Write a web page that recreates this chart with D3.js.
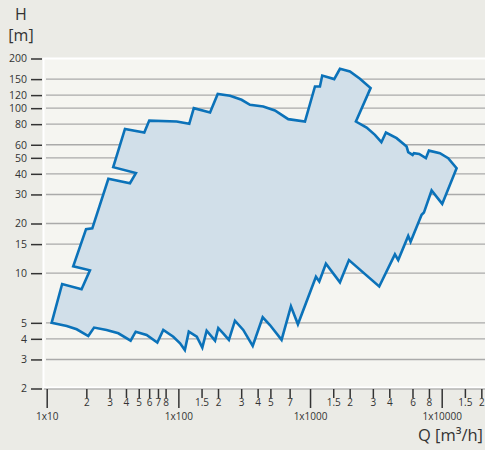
<!DOCTYPE html>
<html>
<head>
<meta charset="utf-8">
<script src="https://cdn.jsdelivr.net/npm/d3@7"></script>
<style>
  body { margin: 0; background: #ebebe6; }
  svg { display: block; font-family: "Open Sans", sans-serif; }
</style>
</head>
<body>
<svg width="485" height="450"></svg>
<script>
// y ticks (H in m)
var yTicks = [200, 150, 120, 100, 80, 60, 50, 40, 30, 20, 15, 10, 5, 4, 3, 2];
// x ticks (Q in m3/h)
var xMajor = [10, 100, 1000, 10000];
var xMajorLabels = ["1x10", "1x100", "1x1000", "1x10000"];
var xMinor = [20, 30, 40, 50, 60, 70, 80, 150, 200, 300, 400, 500, 700,
              1500, 2000, 3000, 4000, 6000, 8000, 15000, 20000];
var xMinorLabels = ["2", "3", "4", "5", "6", "7", "8", "1.5", "2", "3", "4", "5", "7",
                    "1.5", "2", "3", "4", "6", "8", "1.5", "2"];

// outline of the operating range, Q and H
var rangeQ = [10.9, 13.1, 18.4, 21.3, 15.9, 19.9, 22.2, 29.4, 42.9, 47.6, 32.0, 39.3, 55.1, 60.1,
  97, 121, 131, 174, 199, 247, 302, 350, 441, 541, 683, 915, 1090, 1189, 1238, 1526, 1687,
  2009, 2393, 2884, 2231, 2690, 3111, 3484, 3770, 4545, 5414, 5567, 6012, 6150, 6745, 7586,
  7995, 9690, 11204, 12976,
  10087, 8381, 7327, 7038, 5805, 5567, 4674, 4412, 3353, 1975, 1687, 1320, 1175, 1109,
  809, 716, 608, 496, 437, 367, 311, 269, 242, 219, 201, 190, 164, 152, 138, 120, 112, 103,
  91.5, 76.8, 69.2, 57.4, 47.4, 43.4, 35.0, 28.5, 22.9, 20.7, 16.9, 14.2];
var rangeH = [5.0, 8.6, 8.0, 10.4, 11.0, 18.5, 18.7, 37.3, 35.1, 40.4, 43.9, 74.9, 71.2, 84.1,
  83.0, 80.4, 100, 94.1, 122, 118.8, 112.4, 104.8, 102.3, 96.8, 85.8, 83.0, 135.3, 135.3, 157.7, 150, 173.2,
  166.8, 150.7, 132.3, 83.0, 76.3, 68.9, 62.2, 71.2, 65.8, 58.5, 54.1, 52.1, 53.4, 52.8, 49.8,
  55.3, 53.4, 49.8, 43.3,
  26.3, 31.7, 23.3, 22.6, 15.5, 16.8, 12.0, 13.0, 8.3, 12.0, 8.8, 11.4, 8.9, 9.5,
  4.9, 6.3, 3.94, 4.85, 5.4, 3.62, 4.53, 5.15, 3.94, 4.32, 4.64, 3.90, 4.48, 3.54, 4.12, 4.42, 3.42, 3.76,
  4.12, 4.53, 3.80, 4.22, 4.42, 3.90, 4.32, 4.53, 4.68, 4.16, 4.57, 4.79];

var svg = d3.select("svg");
var x = d3.scaleLog().domain([10, 10000]).range([46.7, 441.7]);
var y = d3.scaleLog().domain([2, 200]).range([388.5, 58.5]);

// plot background
svg.append("rect")
	.attr("x", 43.5).attr("y", 58.5)
	.attr("width", 450).attr("height", 329)
	.attr("fill", "#f5f5f1")
	.attr("stroke", "#fff")
	.attr("stroke-width", 2);

// grid
svg.append("g").selectAll("line")
	.data(yTicks.filter(function(d){ return d != 200 && d != 2; }))
	.join("line")
	.attr("x1", 46).attr("x2", 485)
	.attr("y1", function(d){ return y(d); })
	.attr("y2", function(d){ return y(d); })
	.attr("stroke", "#aaaaaa")
	.attr("stroke-width", 1.4);

// x axis line
svg.append("line")
	.attr("x1", 44).attr("x2", 485)
	.attr("y1", 389).attr("y2", 389)
	.attr("stroke", "#999")
	.attr("stroke-width", 1.2);

// operating range
var pts = rangeQ.map(function(q, i){ return [x(q), y(rangeH[i])]; });
svg.append("path")
	.attr("d", d3.line()(pts) + "Z")
	.attr("fill", "#d1dfe9")
	.attr("stroke", "#0b72b9")
	.attr("stroke-width", 2.6)
	.attr("stroke-linejoin", "miter");

// y axis
var yAxis = svg.append("g")
	.attr("transform", "translate(42,0)")
	.call(d3.axisLeft(y).tickValues(yTicks).tickFormat(d3.format("d")).tickSize(11).tickPadding(4));
yAxis.select(".domain").remove();

// x axis, minor then major
var xMin = svg.append("g")
	.attr("transform", "translate(0,389)")
	.call(d3.axisBottom(x).tickValues(xMinor)
		.tickFormat(function(d, i){ return xMinorLabels[i]; })
		.tickSize(9).tickPadding(1));
var xMaj = svg.append("g")
	.attr("transform", "translate(0,389)")
	.call(d3.axisBottom(x).tickValues(xMajor)
		.tickFormat(function(d, i){ return xMajorLabels[i]; })
		.tickSize(19).tickPadding(5));
xMin.select(".domain").remove();
xMaj.select(".domain").remove();

svg.selectAll(".tick line").attr("stroke", "#333").attr("stroke-width", 1.5);
svg.selectAll(".tick text")
	.attr("fill", "#333")
	.style("font-family", "'Open Sans', sans-serif")
	.style("font-size", "10.5px");
xMin.selectAll(".tick text").style("font-size", "10px");
xMaj.selectAll(".tick text").style("font-size", "10px");

// axis titles
svg.append("text").attr("x", 21).attr("y", 20).attr("text-anchor", "middle")
	.attr("fill", "#333").style("font-size", "16px").text("H");
svg.append("text").attr("x", 21).attr("y", 41).attr("text-anchor", "middle")
	.attr("fill", "#333").style("font-size", "16px").text("[m]");
svg.append("text").attr("x", 483).attr("y", 441).attr("text-anchor", "end")
	.attr("fill", "#333").style("font-size", "16.5px").text("Q [m³/h]");
</script>
</body>
</html>
